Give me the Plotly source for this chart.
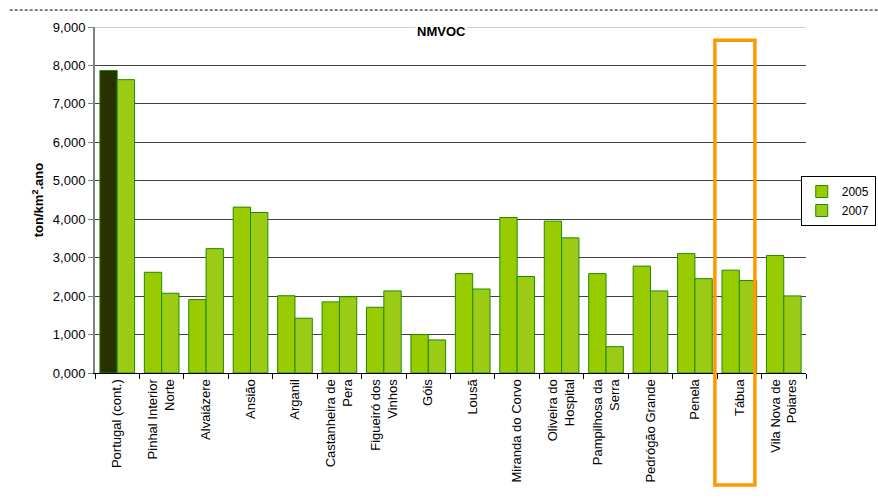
import plotly.graph_objects as go

# NMVOC emissions density by municipality (ton/km².ano)
categories = [
    "Portugal (cont.)", "Pinhal Interior<br>Norte", "Alvaiázere", "Ansião", "Arganil",
    "Castanheira de<br>Pera", "Figueiró dos<br>Vinhos", "Góis", "Lousã",
    "Miranda do Corvo", "Oliveira do<br>Hospital", "Pampilhosa da<br>Serra",
    "Pedrógão Grande", "Penela", "Tábua", "Vila Nova de<br>Poiares",
]
values_2005 = [7870, 2620, 1910, 4315, 2010, 1850, 1710, 1000, 2585, 4045, 3950,
               2585, 2780, 3105, 2675, 3055]
values_2007 = [7630, 2075, 3235, 4175, 1425, 1985, 2135, 860, 2185, 2510, 3515,
               685, 2135, 2455, 2405, 2005]
tick_vals = [0, 1000, 2000, 3000, 4000, 5000, 6000, 7000, 8000, 9000]
tick_text = ["0,000", "1,000", "2,000", "3,000", "4,000", "5,000", "6,000",
             "7,000", "8,000", "9,000"]
national = "Portugal (cont.)"
highlight = "Tábua"

FONT = "Liberation Sans, Arial, sans-serif"
EDGE = dict(color="#1E8C00", width=1)

# 2005 series: the national total gets its own dark bar in the same slot
y_2005_local = [None if c == national else v for c, v in zip(categories, values_2005)]
y_2005_nat = [v if c == national else None for c, v in zip(categories, values_2005)]

fig = go.Figure()
fig.add_trace(go.Bar(
    name="2005", x=categories, y=y_2005_local, offsetgroup="a",
    marker=dict(color="#99CC00", line=EDGE),
))
fig.add_trace(go.Bar(
    name="2005", x=categories, y=y_2005_nat, offsetgroup="a", showlegend=False,
    marker=dict(color="#283000", line=EDGE),
))
fig.add_trace(go.Bar(
    name="2007", x=categories, y=values_2007, offsetgroup="b",
    marker=dict(color="#9BCB14", line=EDGE),
))

hi = categories.index(highlight)
shapes = [
    # light top border line at the range maximum
    dict(type="line", xref="paper", yref="y", x0=0, x1=1, y0=9000, y1=9000,
         line=dict(color="#D0D0D0", width=2)),
    # highlight frame around one municipality
    dict(type="rect", xref="x", yref="paper", x0=hi - 0.55, x1=hi + 0.35,
         y0=-0.324, y1=0.962, line=dict(color="#FF9900", width=3.5),
         fillcolor="rgba(0,0,0,0)"),
    # dashed rule across the top of the page
    dict(type="line", xref="paper", yref="paper", x0=-0.12, x1=1.11, y0=1.049, y1=1.049,
         line=dict(color="#000000", width=1, dash="3px,2px")),
]

fig.update_layout(
    width=878, height=500,
    margin=dict(l=95, r=72, t=27, b=127, autoexpand=False),
    paper_bgcolor="white", plot_bgcolor="white",
    font=dict(family=FONT, size=13, color="#000000"),
    barmode="group", bargap=0.22, bargroupgap=0.0,
    annotations=[dict(text="<b>NMVOC</b>", xref="paper", yref="paper", x=0.487, y=0.988,
                      xanchor="center", yanchor="middle", showarrow=False,
                      bgcolor="white", borderpad=1,
                      font=dict(family=FONT, size=13))],
    legend=dict(xref="container", yref="container", x=0.912, y=0.648,
                xanchor="left", yanchor="top",
                bordercolor="#000000", borderwidth=1, bgcolor="white",
                font=dict(family=FONT, size=12), tracegroupgap=0,
                itemwidth=30),
    shapes=shapes,
    showlegend=True,
)
fig.update_xaxes(
    type="category", tickangle=-90, showline=True, linecolor="#000000", linewidth=1,
    ticks="outside", tickson="boundaries", ticklen=5, tickcolor="#000000",
    tickfont=dict(family=FONT, size=13), showgrid=False,
)
fig.update_yaxes(
    range=[0, 9000], tickvals=tick_vals, ticktext=tick_text,
    showline=True, linecolor="#808080", linewidth=2,
    ticks="outside", ticklen=5, tickcolor="#808080",
    gridcolor="#404040", gridwidth=1, zeroline=False,
    tickfont=dict(family=FONT, size=13),
    title=dict(text="<b>ton/km<sup>2</sup>.ano</b>", font=dict(family=FONT, size=13),
               standoff=6),
)

fig.write_html("out.html")
